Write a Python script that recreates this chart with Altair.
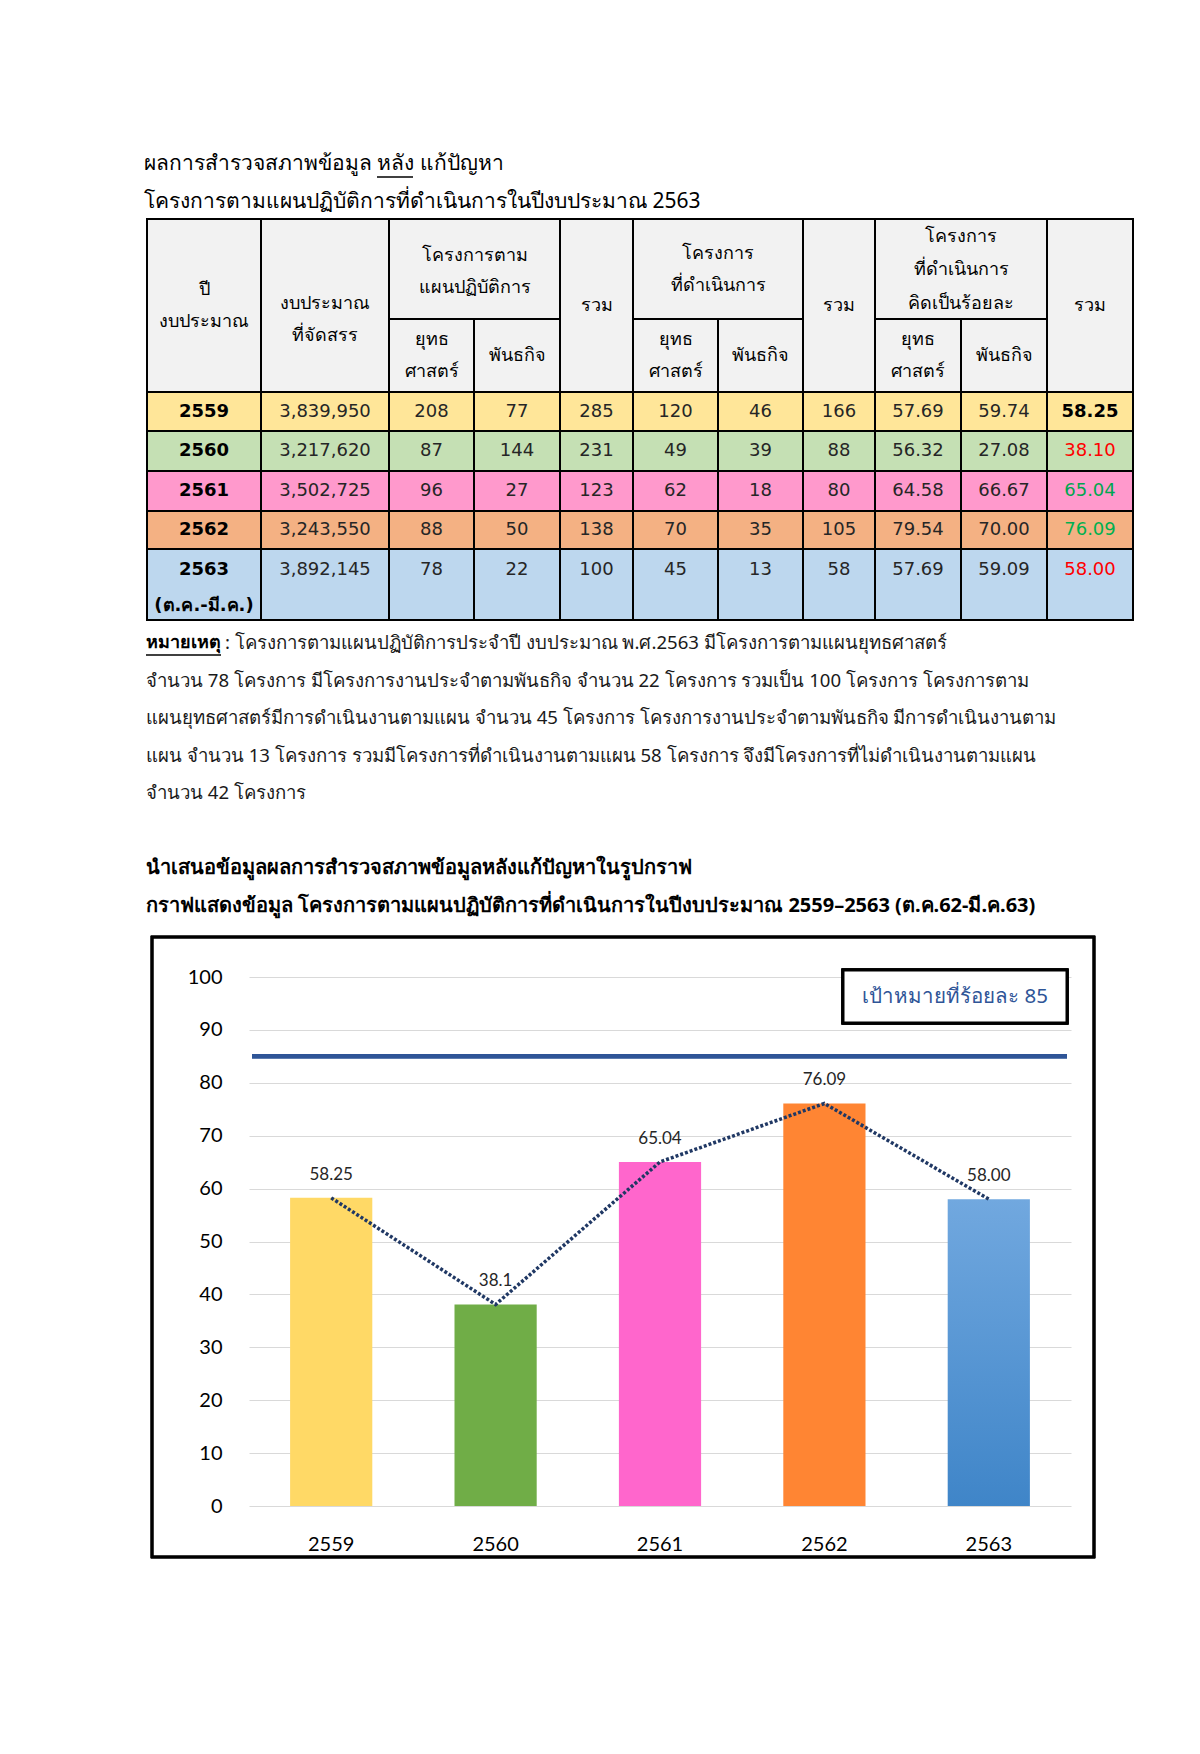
import altair as alt
import pandas as pd

# ------------------------------------------------------------------ data
years = ["2559", "2560", "2561", "2562", "2563"]
year_notes = ["", "", "", "", "(ต.ค.-มี.ค.)"]
budget = ["3,839,950", "3,217,620", "3,502,725", "3,243,550", "3,892,145"]
plan_strategy = [208, 87, 96, 88, 78]
plan_mission = [77, 144, 27, 50, 22]
plan_total = [285, 231, 123, 138, 100]
done_strategy = [120, 49, 62, 70, 45]
done_mission = [46, 39, 18, 35, 13]
done_total = [166, 88, 80, 105, 58]
pct_strategy = ["57.69", "56.32", "64.58", "79.54", "57.69"]
pct_mission = ["59.74", "27.08", "66.67", "70.00", "59.09"]
pct_total = ["58.25", "38.10", "65.04", "76.09", "58.00"]

chart_values = [58.25, 38.1, 65.04, 76.09, 58.00]
chart_labels = ["58.25", "38.1", "65.04", "76.09", "58.00"]
target_value = 85
target_label = "เป้าหมายที่ร้อยละ 85"
y_ticks = [0, 10, 20, 30, 40, 50, 60, 70, 80, 90, 100]

title_lines = ["ผลการสำรวจสภาพข้อมูล หลัง แก้ปัญหา",
               "โครงการตามแผนปฏิบัติการที่ดำเนินการในปีงบประมาณ 2563"]
note_head = "หมายเหตุ"
note_lines = [
    ": โครงการตามแผนปฏิบัติการประจำปี งบประมาณ พ.ศ.2563 มีโครงการตามแผนยุทธศาสตร์",
    "จำนวน 78 โครงการ มีโครงการงานประจำตามพันธกิจ จำนวน 22 โครงการ รวมเป็น 100 โครงการ โครงการตาม",
    "แผนยุทธศาสตร์มีการดำเนินงานตามแผน จำนวน 45 โครงการ โครงการงานประจำตามพันธกิจ มีการดำเนินงานตาม",
    "แผน จำนวน 13 โครงการ รวมมีโครงการที่ดำเนินงานตามแผน 58 โครงการ จึงมีโครงการที่ไม่ดำเนินงานตามแผน",
    "จำนวน 42 โครงการ",
]
chart_title_lines = [
    "นำเสนอข้อมูลผลการสำรวจสภาพข้อมูลหลังแก้ปัญหาในรูปกราฟ",
    "กราฟแสดงข้อมูล โครงการตามแผนปฏิบัติการที่ดำเนินการในปีงบประมาณ 2559–2563 (ต.ค.62-มี.ค.63)",
]
# header cells: (first col, last col + 1, first header row, last header row + 1, lines)
header_cells = [
    (0, 1, 0, 2, ["ปี", "งบประมาณ"]),
    (1, 2, 0, 2, ["งบประมาณ", "ที่จัดสรร"]),
    (2, 4, 0, 1, ["โครงการตาม", "แผนปฏิบัติการ"]),
    (2, 3, 1, 2, ["ยุทธ", "ศาสตร์"]),
    (3, 4, 1, 2, ["พันธกิจ"]),
    (4, 5, 0, 2, ["รวม"]),
    (5, 7, 0, 1, ["โครงการ", "ที่ดำเนินการ"]),
    (5, 6, 1, 2, ["ยุทธ", "ศาสตร์"]),
    (6, 7, 1, 2, ["พันธกิจ"]),
    (7, 8, 0, 2, ["รวม"]),
    (8, 10, 0, 1, ["โครงการ", "ที่ดำเนินการ", "คิดเป็นร้อยละ"]),
    (8, 9, 1, 2, ["ยุทธ", "ศาสตร์"]),
    (9, 10, 1, 2, ["พันธกิจ"]),
    (10, 11, 0, 2, ["รวม"]),
]

# ------------------------------------------------------------------ layout / style
COL_EDGES = [0, 114, 242, 327, 413, 486, 571, 656, 728, 814, 900, 986]
HEAD_EDGES = [0, 100, 173]
ROW_EDGES = [173, 212, 252, 292, 330, 401]
TW, TH = 986, 401
HEADER_NUDGE = {(1, 0): 14, (2, 0): 3, (5, 0): 1, (8, 0): 1}
HEADER_LH = {(8, 0): 33.5}
FONT_TH = "Noto Sans"
FONT_NUM = "DejaVu Sans"
FONT_CHART = "Lato"
HEADER_FILL = "#F2F2F2"
row_fills = ["#FFE699", "#C5E0B4", "#FF99CC", "#F4B183", "#BDD7EE"]
pct_total_colors = ["#000000", "#FF0000", "#00A650", "#00B050", "#FF0000"]
bar_colors = ["#FFD966", "#70AD47", "#FF66CC", "#FF8533"]
TEXT_COL = "#262626"
NO_VIEW = alt.ViewBackground(strokeWidth=0, strokeOpacity=0, stroke="transparent")

# ------------------------------------------------------------------ table
cells, htext, vtext = [], [], []
for c0, c1, r0, r1, lines in header_cells:
    x0, x1 = COL_EDGES[c0], COL_EDGES[c1]
    y0, y1 = HEAD_EDGES[r0], HEAD_EDGES[r1]
    cells.append(dict(x0=x0, x1=x1, y0=y0, y1=y1, fill=HEADER_FILL))
    cy = (y0 + y1) / 2 + HEADER_NUDGE.get((c0, r0), 0)
    lh = HEADER_LH.get((c0, r0), 32)
    n = len(lines)
    for i, t in enumerate(lines):
        htext.append(dict(x=(x0 + x1) / 2, y=cy + (i - (n - 1) / 2) * lh, t=t))

columns = [years, budget, plan_strategy, plan_mission, plan_total, done_strategy,
           done_mission, done_total, pct_strategy, pct_mission, pct_total]
for r in range(len(years)):
    y0, y1 = ROW_EDGES[r], ROW_EDGES[r + 1]
    ty = (y0 + y1) / 2 if not year_notes[r] else y0 + 21
    for c in range(len(columns)):
        x0, x1 = COL_EDGES[c], COL_EDGES[c + 1]
        cells.append(dict(x0=x0, x1=x1, y0=y0, y1=y1, fill=row_fills[r]))
        bold = c == 0 or (c == 10 and r == 0)
        color = pct_total_colors[r] if c == 10 else ("#000000" if c == 0 else TEXT_COL)
        vtext.append(dict(x=(x0 + x1) / 2, y=ty, t=str(columns[c][r]), color=color, bold=bold))
    if year_notes[r]:
        vtext.append(dict(x=(COL_EDGES[0] + COL_EDGES[1]) / 2, y=ty + 36, t=year_notes[r],
                          color="#000000", bold=True))

cells_df = pd.DataFrame(cells)
htext_df = pd.DataFrame(htext)
vtext_df = pd.DataFrame(vtext)
title_df = pd.DataFrame({"t": title_lines, "y": [-55, -17]})
anchor_df = pd.DataFrame({"x0": [-10], "x1": [-9], "y0": [-81], "y1": [-80]})

tx = lambda f: alt.X(f, scale=alt.Scale(domain=[0, TW], nice=False, zero=False), axis=None)
ty_ = lambda f: alt.Y(f, scale=alt.Scale(domain=[0, TH], range=[0, TH], nice=False, zero=False), axis=None)

anchor = alt.Chart(anchor_df).mark_rect(opacity=0).encode(
    x=tx("x0:Q"), x2="x1:Q", y=ty_("y0:Q"), y2="y1:Q")
cell_layer = alt.Chart(cells_df).mark_rect(stroke="#000000", strokeWidth=2).encode(
    x=tx("x0:Q"), x2="x1:Q", y=ty_("y0:Q"), y2="y1:Q",
    fill=alt.Fill("fill:N", scale=None))
head_layer = alt.Chart(htext_df).mark_text(font=FONT_TH, fontSize=18, color="#000000",
                                            baseline="middle").encode(
    x=tx("x:Q"), y=ty_("y:Q"), text="t:N")
val_norm = alt.Chart(vtext_df[~vtext_df.bold]).mark_text(font=FONT_NUM, fontSize=18,
                                                         baseline="middle").encode(
    x=tx("x:Q"), y=ty_("y:Q"), text="t:N", color=alt.Color("color:N", scale=None))
val_bold = alt.Chart(vtext_df[vtext_df.bold]).mark_text(font=FONT_NUM, fontSize=18, fontWeight="bold",
                                                        baseline="middle").encode(
    x=tx("x:Q"), y=ty_("y:Q"), text="t:N", color=alt.Color("color:N", scale=None))
title_layer = alt.Chart(title_df).mark_text(font=FONT_TH, fontSize=21, align="left",
                                            baseline="middle", color="#000000").encode(
    x=alt.value(-3), y=ty_("y:Q"), text="t:N")
title_ul = alt.Chart(pd.DataFrame({"y": [-42]})).mark_rule(color="#000000", strokeWidth=1.5).encode(
    y=ty_("y:Q"), x=alt.value(230), x2=alt.value(266))

table = alt.layer(anchor, cell_layer, head_layer, val_norm, val_bold, title_layer, title_ul).properties(
    width=TW, height=TH, view=NO_VIEW)

# ------------------------------------------------------------------ text block
TB_H = 317
lines_df = pd.DataFrame({
    "t": note_lines + chart_title_lines,
    "line": [0, 1, 2, 3, 4, 6, 7],
    "kind": ["note"] * 5 + ["title"] * 2,
})
ly = lambda: alt.Y("line:Q", scale=alt.Scale(domain=[0, 7], range=[23, 285.5], nice=False, zero=False),
                   axis=None)
note_text = alt.Chart(lines_df[lines_df.kind == "note"].iloc[1:]).mark_text(
    font=FONT_TH, fontSize=18.6, align="left", baseline="middle", color="#1a1a1a").encode(
    x=alt.value(-1), y=ly(), text="t:N")
note_first = alt.Chart(lines_df.iloc[:1]).mark_text(
    font=FONT_TH, fontSize=18.6, align="left", baseline="middle", color="#1a1a1a").encode(
    x=alt.value(78), y=ly(), text="t:N")
note_head_layer = alt.Chart(pd.DataFrame({"t": [note_head], "line": [0]})).mark_text(
    font=FONT_TH, fontSize=18, fontWeight="bold", align="left", baseline="middle",
    color="#000000").encode(x=alt.value(-1), y=ly(), text="t:N")
note_ul = alt.Chart(pd.DataFrame({"line": [0]})).mark_rule(color="#000000", strokeWidth=1.5,
                                                           yOffset=12).encode(
    y=ly(), x=alt.value(-1), x2=alt.value(74))
chart_title_text = alt.Chart(lines_df[lines_df.kind == "title"]).mark_text(
    font=FONT_TH, fontSize=20, fontWeight="bold", align="left", baseline="middle",
    color="#000000").encode(x=alt.value(-1), y=ly(), text="t:N")
text_block = alt.layer(note_text, note_first, note_head_layer, note_ul, chart_title_text).properties(
    width=TW, height=TB_H, view=NO_VIEW)

# ------------------------------------------------------------------ bar chart
BW, BH = 947, 620
bar_df = pd.DataFrame({"year": years, "value": chart_values, "label": chart_labels})
bar_df["color"] = bar_colors + [""]

xenc = alt.X("year:N", title=None,
             scale=alt.Scale(range=[102, 924], paddingInner=0.5, paddingOuter=0.25),
             axis=alt.Axis(orient="bottom", offset=-51, labelPadding=28, domain=False, ticks=False,
                           labelAngle=0, labelFont=FONT_CHART, labelFontSize=20,
                           labelColor="#000000", grid=False))
yenc = alt.Y("value:Q", title=None,
             scale=alt.Scale(domain=[0, 100], range=[569, 40], nice=False),
             axis=alt.Axis(values=y_ticks, offset=-102, labelPadding=27, domain=False, ticks=False,
                           grid=True, gridColor="#D9D9D9", gridWidth=1, labelFont=FONT_CHART,
                           labelFontSize=20, labelColor="#000000"))

frame = alt.Chart(bar_df).mark_rect(fillOpacity=0, stroke="#000000", strokeWidth=2.5).encode(
    x=alt.value(5), x2=alt.value(947), y=alt.value(0), y2=alt.value(620))
bars = alt.Chart(bar_df[bar_df.year != "2563"]).mark_bar().encode(
    x=xenc, y=yenc, color=alt.Color("color:N", scale=None))
bar_grad = alt.Chart(bar_df[bar_df.year == "2563"]).mark_bar(
    color=alt.LinearGradient(gradient="linear",
                             stops=[alt.GradientStop(color="#71A8DF", offset=0),
                                    alt.GradientStop(color="#3F85C8", offset=1)],
                             x1=0, x2=0, y1=0, y2=1)).encode(x="year:N", y="value:Q")
target = alt.Chart(bar_df).mark_rule(color="#2F5597", strokeWidth=4).encode(
    y=alt.datum(target_value), x=alt.value(105), x2=alt.value(920))
trend = alt.Chart(bar_df).mark_line(color="#203864", strokeWidth=3.5, strokeDash=[3, 2]).encode(
    x="year:N", y="value:Q")
labels = alt.Chart(bar_df).mark_text(font=FONT_CHART, fontSize=17, dy=-23, color="#262626").encode(
    x="year:N", y="value:Q", text="label:N")
tbox = alt.Chart(bar_df).mark_rect(fill="#FFFFFF", stroke="#000000", strokeWidth=3).encode(
    x=alt.value(696), x2=alt.value(920), y=alt.value(33), y2=alt.value(86))
ttext = alt.Chart(pd.DataFrame({"t": [target_label]})).mark_text(
    font=FONT_TH, fontSize=20.5, color="#2F5597", baseline="middle").encode(
    x=alt.value(808), y=alt.value(60), text="t:N")

bar_chart = alt.layer(frame, bars, bar_grad, target, trend, labels, tbox, ttext).properties(
    width=BW, height=BH, view=NO_VIEW)

# ------------------------------------------------------------------ page
chart = alt.vconcat(table, text_block, bar_chart, spacing=0, bounds="flush").properties(
    padding={"left": 129, "top": 130, "right": 5, "bottom": 5}
).configure_view(strokeWidth=0, strokeOpacity=0, stroke="transparent").configure(background="#FFFFFF")

chart.save("out.html", embed_options={"renderer": "svg", "actions": False})
